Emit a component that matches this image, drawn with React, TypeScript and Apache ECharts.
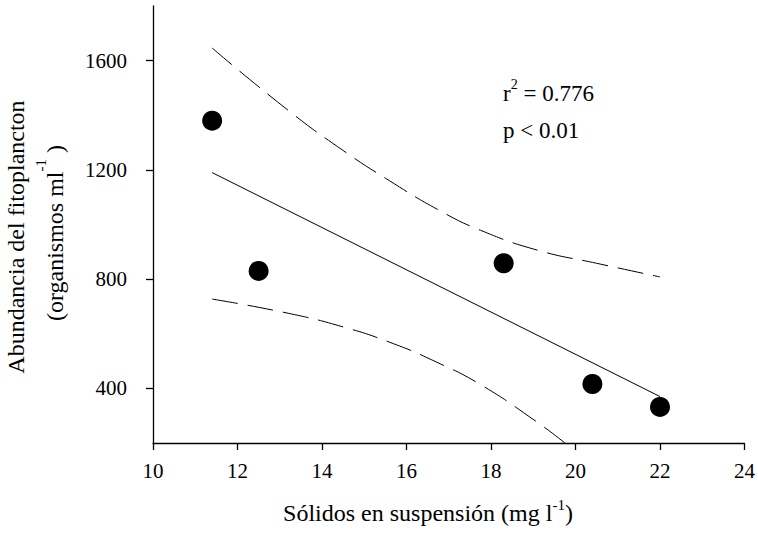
import React, { useEffect, useRef } from "react";
import * as echarts from "echarts";

const xTicks = [10, 12, 14, 16, 18, 20, 22, 24];
const yTicks = [400, 800, 1200, 1600];

const sampleX = [11.4, 12.5, 18.3, 20.4, 22.0];
const sampleY = [1380, 830, 858, 416, 332];

const fitX = [11.4, 22.0];
const fitY = [1190, 370];

const upperX = [11.4, 13.2, 14.5, 15.6, 16.75, 17.75, 19.1, 20.5, 22.0];
const upperY = [1646, 1418, 1271, 1160, 1054, 979, 906, 858, 808];

const lowerX = [11.4, 13.2, 14.5, 15.6, 16.7, 17.75, 19.05, 19.75];
const lowerY = [727, 675, 625, 569, 497, 414, 281, 200];

const FONT = "Liberation Serif";

function zip(xs: number[], ys: number[]) {
  return xs.map((x, i) => [x, ys[i]]);
}

export default function App() {
  const ref = useRef<HTMLDivElement>(null);
  useEffect(() => {
    const chart = echarts.init(ref.current!, null, { renderer: "svg" });
    const dashed = {
      type: "line",
      showSymbol: false,
      smooth: 0.5,
      lineStyle: { color: "#000", width: 1, type: [26, 10] },
      silent: true,
      z: 2,
    };
    const sub = (size: number, lh: number) => ({
      a: { fontFamily: FONT, fontSize: size, fill: "#000", lineHeight: lh, verticalAlign: "bottom" },
      s: { fontFamily: FONT, fontSize: Math.round(size * 0.62), fill: "#000", lineHeight: lh, verticalAlign: "top" },
    });
    chart.setOption({
      animation: false,
      backgroundColor: "#fff",
      grid: { left: 153, top: 6, right: 9, bottom: 91, containLabel: false },
      xAxis: {
        type: "value",
        min: 10,
        max: 24,
        interval: 2,
        splitLine: { show: false },
        axisLine: { show: true, lineStyle: { color: "#000", width: 1.3 } },
        axisTick: { show: true, inside: false, length: 7, lineStyle: { color: "#000", width: 1.3 }, customValues: xTicks },
        axisLabel: {
          customValues: xTicks,
          margin: 17,
          color: "#000",
          fontFamily: FONT,
          fontSize: 21,
          formatter: (v: number) => String(v),
        },
      },
      yAxis: {
        type: "value",
        min: 200,
        max: 1800,
        splitLine: { show: false },
        axisLine: { show: true, onZero: false, lineStyle: { color: "#000", width: 1.3 } },
        axisTick: { show: true, inside: false, length: 7, lineStyle: { color: "#000", width: 1.3 }, customValues: yTicks },
        axisLabel: {
          customValues: yTicks,
          margin: 26,
          color: "#000",
          fontFamily: FONT,
          fontSize: 21,
          formatter: (v: number) => String(v),
        },
      },
      series: [
        { ...dashed, data: zip(upperX, upperY) },
        { ...dashed, data: zip(lowerX, lowerY) },
        {
          type: "line",
          showSymbol: false,
          data: zip(fitX, fitY),
          lineStyle: { color: "#000", width: 1 },
          silent: true,
          z: 2,
        },
        {
          type: "scatter",
          data: zip(sampleX, sampleY),
          symbol: "circle",
          symbolSize: 20,
          itemStyle: { color: "#000", opacity: 1 },
          z: 3,
        },
      ],
      graphic: [
        {
          type: "text",
          x: 16,
          y: 237,
          rotation: Math.PI / 2,
          style: {
            text: "Abundancia del fitoplancton",
            fontFamily: FONT,
            fontSize: 24,
            fill: "#000",
            align: "center",
            verticalAlign: "middle",
          },
        },
        {
          type: "text",
          x: 50,
          y: 233,
          rotation: Math.PI / 2,
          style: {
            text: "{a|(organismos ml}{s|-1}{a| )}",
            fill: "#000",
            align: "center",
            verticalAlign: "middle",
            rich: sub(24, 34),
          },
        },
        {
          type: "text",
          x: 428,
          y: 511,
          style: {
            text: "{a|Sólidos en suspensión (mg l}{s|-1}{a|)}",
            fill: "#000",
            align: "center",
            verticalAlign: "middle",
            rich: sub(24, 28),
          },
        },
        {
          type: "text",
          x: 503,
          y: 91,
          style: {
            text: "{a|r}{s|2}{a| = 0.776}",
            fill: "#000",
            align: "left",
            verticalAlign: "middle",
            rich: sub(23, 28),
          },
        },
        {
          type: "text",
          x: 503,
          y: 130,
          style: {
            text: "p < 0.01",
            fontFamily: FONT,
            fontSize: 23,
            fill: "#000",
            align: "left",
            verticalAlign: "middle",
          },
        },
      ],
    });
    return () => chart.dispose();
  }, []);
  return (
    <div
      ref={ref}
      style={{ position: "absolute", left: 0, top: 0, width: 758, height: 534 }}
    />
  );
}
